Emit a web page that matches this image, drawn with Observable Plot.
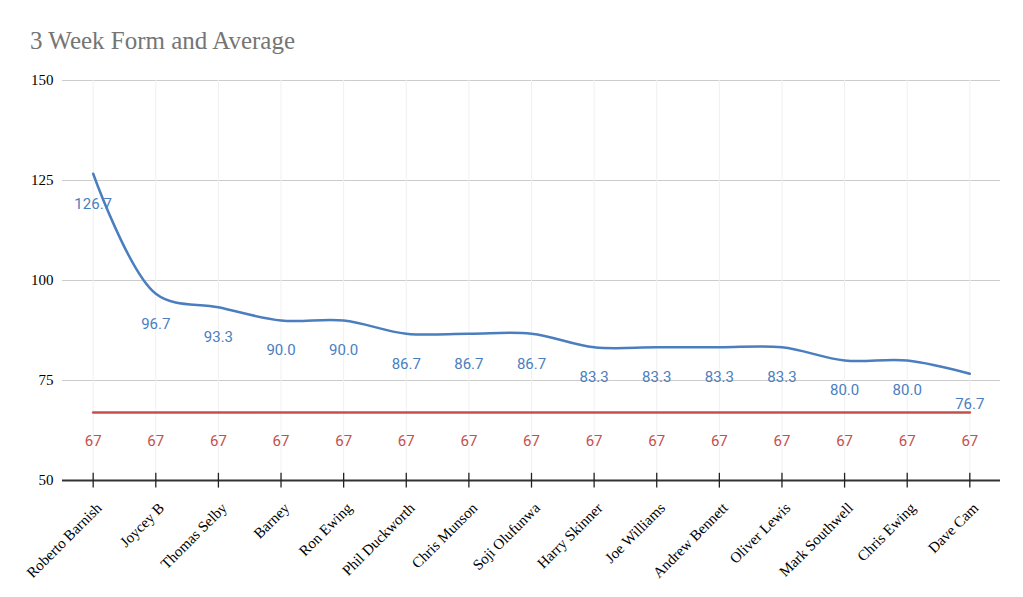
<!DOCTYPE html>
<html>
<head>
<meta charset="utf-8">
<script src="https://cdn.jsdelivr.net/npm/d3@7"></script>
<script src="https://cdn.jsdelivr.net/npm/@observablehq/plot@0.6"></script>
<style>
  body { margin: 0; background: #fff; }
  #title { font-family: "Liberation Serif", serif; font-size: 25px; color: #757575; height: 62px; box-sizing: border-box; padding: 28px 0 0 30px; line-height: 1; }
  svg { display: block; }
</style>
</head>
<body>
<div id="title">3 Week Form and Average</div>
<div id="chart"></div>
<script>
const players = ["Roberto Barnish","Joycey B","Thomas Selby","Barney","Ron Ewing","Phil Duckworth","Chris Munson","Soji Olufunwa","Harry Skinner","Joe Williams","Andrew Bennett","Oliver Lewis","Mark Southwell","Chris Ewing","Dave Cam"];
const form = [126.7,96.7,93.3,90.0,90.0,86.7,86.7,86.7,83.3,83.3,83.3,83.3,80.0,80.0,76.7];
const average = [67,67,67,67,67,67,67,67,67,67,67,67,67,67,67];
const yTicks = [50,75,100,125,150];

const data = players.map((p, i) => ({player: p, form: form[i], avg: average[i]}));
const blue = "#4a7ebf";
const red = "#c4504d";

const chart = Plot.plot({
  width: 1023,
  height: 535,
  marginTop: 18,
  marginBottom: 117,
  marginLeft: 62,
  marginRight: 23,
  x: {type: "point", domain: players, padding: 0.49, round: false},
  y: {domain: [50, 150]},
  style: {background: "#fff"},
  marks: [
    Plot.ruleY(yTicks.filter(d => d > 50), {stroke: "#cccccc", strokeWidth: 1}),
    Plot.ruleX(players, {y1: 50, y2: 150, stroke: "#f0f0f0", strokeWidth: 1}),
    Plot.axisY({ticks: yTicks, tickSize: 0, tickPadding: 9, fontFamily: "Liberation Serif", fontSize: 15, fill: "#000", label: null}),
    Plot.axisX({tickSize: 0, tickPadding: 20, tickRotate: -45, fontFamily: "Liberation Serif", fontSize: 15, fill: "#000", label: null, dx: 6, dy: 5}),
    Plot.ruleY([50], {stroke: "#333", strokeWidth: 2}),
    Plot.ruleX(players, {y1: 48.1, y2: 51.8, stroke: "#222", strokeWidth: 1.3}),
    Plot.line(data, {x: "player", y: "avg", stroke: red, strokeWidth: 2.5}),
    Plot.line(data, {x: "player", y: "form", stroke: blue, strokeWidth: 2.5, curve: "catmull-rom"}),
    Plot.text(data, {x: "player", y: "form", text: d => d.form.toFixed(1), dy: 30, fill: blue, fontFamily: "Roboto", fontSize: 15}),
    Plot.text(data, {x: "player", y: "avg", text: d => String(d.avg), dy: 29, fill: red, fontFamily: "Roboto", fontSize: 15})
  ]
});
document.getElementById("chart").append(chart);
</script>
</body>
</html>
